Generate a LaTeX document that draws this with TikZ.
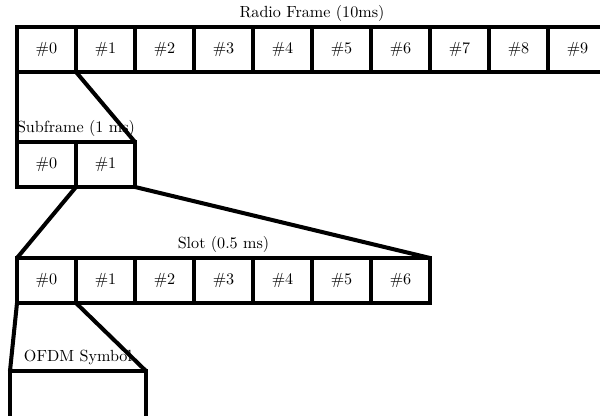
\documentclass[tikz,border=0pt]{standalone}
\begin{document}
\begin{tikzpicture}[x=0.62pt,y=-0.62pt,
  cell/.style={draw,line width=2.5pt,minimum width=36.58pt,minimum height=27.9pt,inner sep=0pt,outer sep=0pt,anchor=north west},
  ofdm/.style={draw,line width=2.5pt,minimum width=84.3pt,minimum height=31pt,inner sep=0pt,outer sep=0pt,anchor=north west},
  grp/.style={inner sep=1pt,anchor=south},
  link/.style={line width=2.5pt}]
\useasboundingbox (0,0) rectangle (600,416);
% Radio frame
\foreach \i in {0,...,9} {
  \node[cell] (r\i) at ({17+59*\i},27) {\#\i};
}
\node[grp] (rl) at (312,23) {Radio Frame (10ms)};
% Subframe
\foreach \i in {0,1} {
  \node[cell] (s\i) at ({17+59*\i},142) {\#\i};
}
\node[grp] (sl) at (76,138) {Subframe (1 ms)};
% Slot
\foreach \i in {0,...,6} {
  \node[cell] (t\i) at ({17+59*\i},258) {\#\i};
}
\node[grp] (tl) at (223.5,254) {Slot (0.5 ms)};
% OFDM symbol
\node[ofdm] (o) at (10,371) {};
\node[grp] (ol) at (78,367) {OFDM Symbol};
% connectors
\draw[link] (r0.south west) -- (s0.north west);
\draw[link] (r0.south east) -- (s1.north east);
\draw[link] (s1.south west) -- (t0.north west);
\draw[link] (s1.south east) -- (t6.north east);
\draw[link] (t0.south west) -- (o.north west);
\draw[link] (t0.south east) -- (o.north east);
\end{tikzpicture}
\end{document}
